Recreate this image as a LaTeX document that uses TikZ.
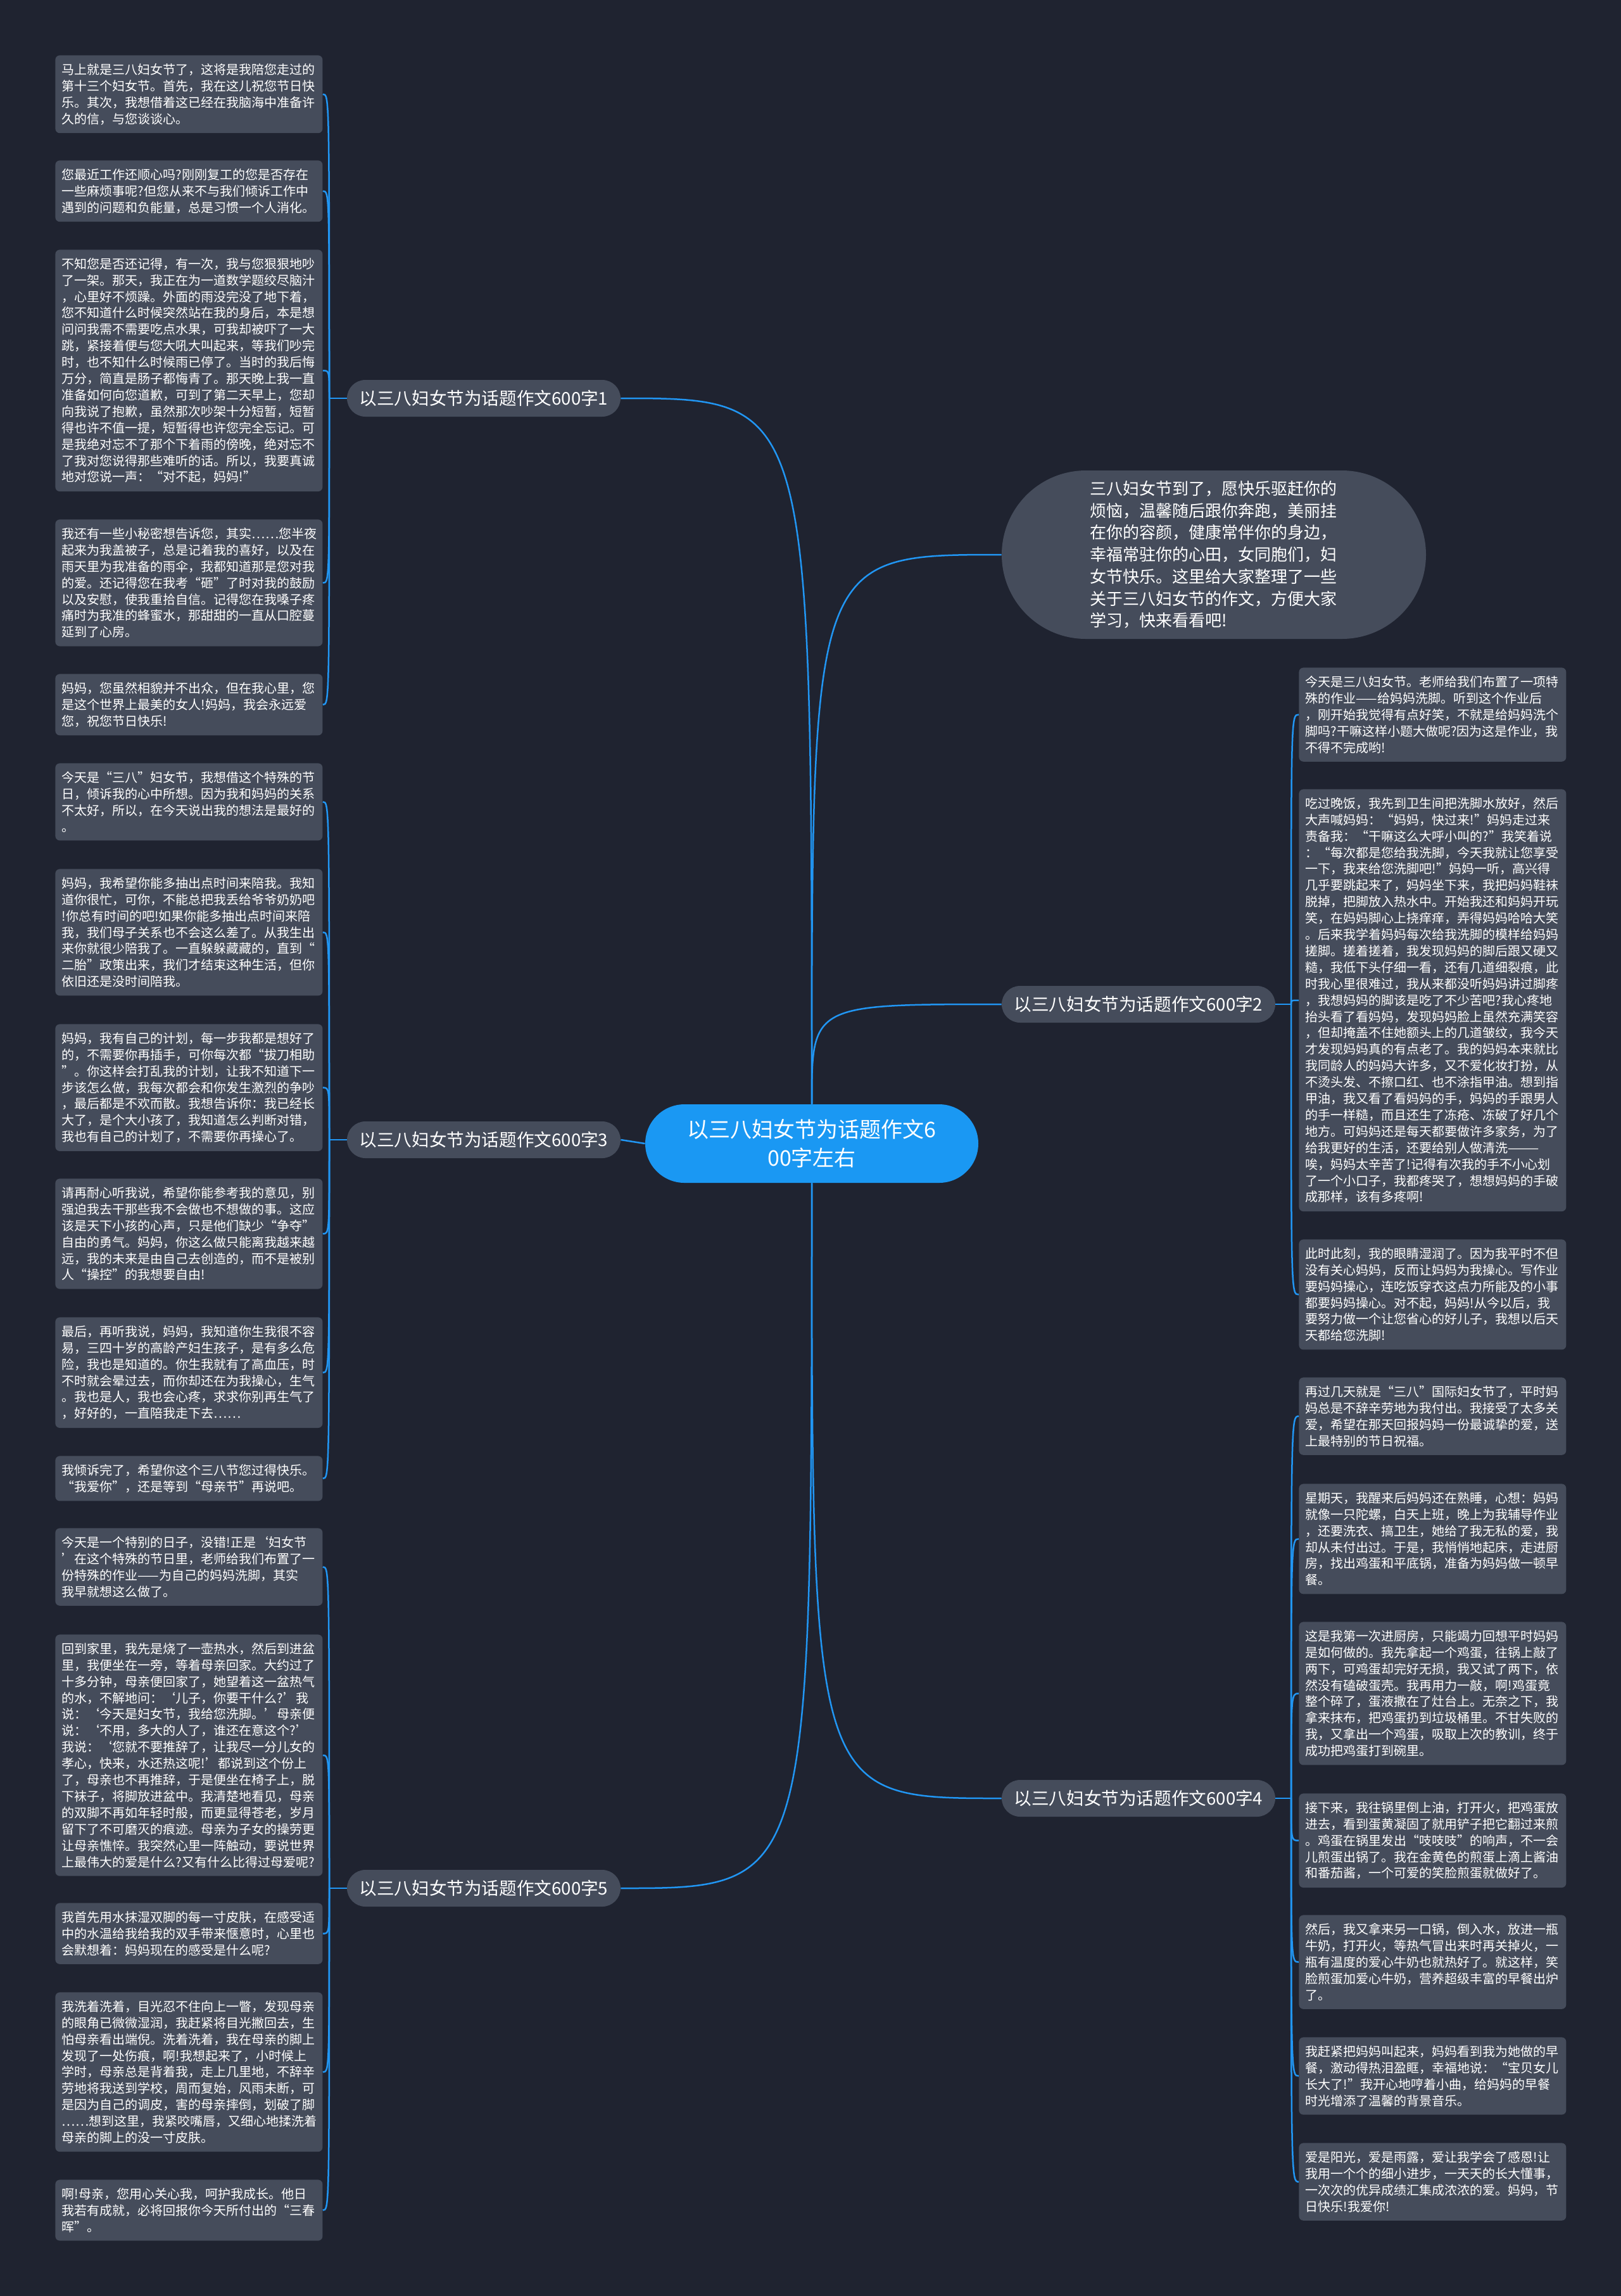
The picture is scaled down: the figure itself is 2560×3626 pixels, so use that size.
\documentclass[tikz,border=0pt]{standalone}
\usepackage{fontspec}
\usepackage{tikz}
\setmainfont{Noto Sans CJK SC}
\definecolor{mapbg}{HTML}{1F2330}
\definecolor{mapgrey}{HTML}{454C5B}
\definecolor{mapblue}{HTML}{2196F3}
\definecolor{mapcore}{HTML}{1A98F3}

\begin{document}
\begin{tikzpicture}[x=0.5pt,y=-0.5pt,
  leaf/.style={fill=mapgrey,rounded corners=3.5pt,text=white,anchor=north west,
    text width=200.5pt,inner xsep=5.25pt,inner ysep=6.5pt,align=left,
    font=\fontsize{10}{12.95}\selectfont},
  topic/.style={fill=mapgrey,rounded corners=14.5pt,text=white,
    minimum width=216pt,minimum height=29pt,inner sep=0pt,
    font=\fontsize{13.8}{16}\selectfont},
  core/.style={fill=mapcore,rounded corners=31pt,text=white,
    minimum width=263pt,minimum height=62pt,inner sep=0pt,align=center,
    font=\fontsize{17}{22.5}\selectfont},
  bubble/.style={fill=mapgrey,rounded corners=66.5pt,text=white,
    minimum width=335pt,minimum height=133pt,inner sep=0pt,
    text width=196pt,align=left,font=\fontsize{13}{17.35}\selectfont},
  link/.style={draw=mapblue,line width=1.25pt}]

  \fill[mapbg] (0,0) rectangle (2560,3626);

  % centre, intro and topics
  \node[core] (ctr) at (1282,1806) {以三八妇女节为话题作文6\\00字左右};
  \node[bubble] (intro) at (1917,876) {三八妇女节到了，愿快乐驱赶你的\\烦恼，温馨随后跟你奔跑，美丽挂\\在你的容颜，健康常伴你的身边，\\幸福常驻你的心田，女同胞们，妇\\女节快乐。这里给大家整理了一些\\关于三八妇女节的作文，方便大家\\学习，快来看看吧!};
  \node[topic] (b1) at (764,629) {以三八妇女节为话题作文600字1};
  \node[topic] (b3) at (764,1800) {以三八妇女节为话题作文600字3};
  \node[topic] (b5) at (764,2982) {以三八妇女节为话题作文600字5};
  \node[topic] (b2) at (1798,1586) {以三八妇女节为话题作文600字2};
  \node[topic] (b4) at (1798,2840) {以三八妇女节为话题作文600字4};

  % topic 1
  \node[leaf] (L1a) at (87,87) {马上就是三八妇女节了，这将是我陪您走过的\\第十三个妇女节。首先，我在这儿祝您节日快\\乐。其次，我想借着这已经在我脑海中准备许\\久的信，与您谈谈心。};
  \node[leaf] (L1b) at (87,253) {您最近工作还顺心吗?刚刚复工的您是否存在\\一些麻烦事呢?但您从来不与我们倾诉工作中\\遇到的问题和负能量，总是习惯一个人消化。};
  \node[leaf] (L1c) at (87,394) {不知您是否还记得，有一次，我与您狠狠地吵\\了一架。那天，我正在为一道数学题绞尽脑汁\\，心里好不烦躁。外面的雨没完没了地下着，\\您不知道什么时候突然站在我的身后，本是想\\问问我需不需要吃点水果，可我却被吓了一大\\跳，紧接着便与您大吼大叫起来，等我们吵完\\时，也不知什么时候雨已停了。当时的我后悔\\万分，简直是肠子都悔青了。那天晚上我一直\\准备如何向您道歉，可到了第二天早上，您却\\向我说了抱歉，虽然那次吵架十分短暂，短暂\\得也许不值一提，短暂得也许您完全忘记。可\\是我绝对忘不了那个下着雨的傍晚，绝对忘不\\了我对您说得那些难听的话。所以，我要真诚\\地对您说一声：“对不起，妈妈!”};
  \node[leaf] (L1d) at (87,820) {我还有一些小秘密想告诉您，其实……您半夜\\起来为我盖被子，总是记着我的喜好，以及在\\雨天里为我准备的雨伞，我都知道那是您对我\\的爱。还记得您在我考“砸”了时对我的鼓励\\以及安慰，使我重拾自信。记得您在我嗓子疼\\痛时为我准的蜂蜜水，那甜甜的一直从口腔蔓\\延到了心房。};
  \node[leaf] (L1e) at (87,1064) {妈妈，您虽然相貌并不出众，但在我心里，您\\是这个世界上最美的女人!妈妈，我会永远爱\\您，祝您节日快乐!};

  % topic 3
  \node[leaf] (L3a) at (87,1205) {今天是“三八”妇女节，我想借这个特殊的节\\日，倾诉我的心中所想。因为我和妈妈的关系\\不太好，所以，在今天说出我的想法是最好的\\。};
  \node[leaf] (L3b) at (87,1372) {妈妈，我希望你能多抽出点时间来陪我。我知\\道你很忙，可你，不能总把我丢给爷爷奶奶吧\\!你总有时间的吧!如果你能多抽出点时间来陪\\我，我们母子关系也不会这么差了。从我生出\\来你就很少陪我了。一直躲躲藏藏的，直到“\\二胎”政策出来，我们才结束这种生活，但你\\依旧还是没时间陪我。};
  \node[leaf] (L3c) at (87,1617) {妈妈，我有自己的计划，每一步我都是想好了\\的，不需要你再插手，可你每次都“拔刀相助\\”。你这样会打乱我的计划，让我不知道下一\\步该怎么做，我每次都会和你发生激烈的争吵\\，最后都是不欢而散。我想告诉你：我已经长\\大了，是个大小孩了，我知道怎么判断对错，\\我也有自己的计划了，不需要你再操心了。};
  \node[leaf] (L3d) at (87,1861) {请再耐心听我说，希望你能参考我的意见，别\\强迫我去干那些我不会做也不想做的事。这应\\该是天下小孩的心声，只是他们缺少“争夺”\\自由的勇气。妈妈，你这么做只能离我越来越\\远，我的未来是由自己去创造的，而不是被别\\人“操控”的我想要自由!};
  \node[leaf] (L3e) at (87,2080) {最后，再听我说，妈妈，我知道你生我很不容\\易，三四十岁的高龄产妇生孩子，是有多么危\\险，我也是知道的。你生我就有了高血压，时\\不时就会晕过去，而你却还在为我操心，生气\\。我也是人，我也会心疼，求求你别再生气了\\，好好的，一直陪我走下去……};
  \node[leaf] (L3f) at (87,2299) {我倾诉完了，希望你这个三八节您过得快乐。\\“我爱你”，还是等到“母亲节”再说吧。};

  % topic 5
  \node[leaf] (L5a) at (87,2413) {今天是一个特别的日子，没错!正是‘妇女节\\’在这个特殊的节日里，老师给我们布置了一\\份特殊的作业——为自己的妈妈洗脚，其实\\我早就想这么做了。};
  \node[leaf] (L5b) at (87,2581) {回到家里，我先是烧了一壶热水，然后到进盆\\里，我便坐在一旁，等着母亲回家。大约过了\\十多分钟，母亲便回家了，她望着这一盆热气\\的水，不解地问：‘儿子，你要干什么?’我\\说：‘今天是妇女节，我给您洗脚。’母亲便\\说：‘不用，多大的人了，谁还在意这个?’\\我说：‘您就不要推辞了，让我尽一分儿女的\\孝心，快来，水还热这呢!’都说到这个份上\\了，母亲也不再推辞，于是便坐在椅子上，脱\\下袜子，将脚放进盆中。我清楚地看见，母亲\\的双脚不再如年轻时般，而更显得苍老，岁月\\留下了不可磨灭的痕迹。母亲为子女的操劳更\\让母亲憔悴。我突然心里一阵触动，要说世界\\上最伟大的爱是什么?又有什么比得过母爱呢?};
  \node[leaf] (L5c) at (87,3005) {我首先用水抹湿双脚的每一寸皮肤，在感受适\\中的水温给我给我的双手带来惬意时，心里也\\会默想着：妈妈现在的感受是什么呢?};
  \node[leaf] (L5d) at (87,3146) {我洗着洗着，目光忍不住向上一瞥，发现母亲\\的眼角已微微湿润，我赶紧将目光撇回去，生\\怕母亲看出端倪。洗着洗着，我在母亲的脚上\\发现了一处伤痕，啊!我想起来了，小时候上\\学时，母亲总是背着我，走上几里地，不辞辛\\劳地将我送到学校，周而复始，风雨未断，可\\是因为自己的调皮，害的母亲摔倒，划破了脚\\……想到这里，我紧咬嘴唇，又细心地揉洗着\\母亲的脚上的没一寸皮肤。};
  \node[leaf] (L5e) at (87,3442) {啊!母亲，您用心关心我，呵护我成长。他日\\我若有成就，必将回报你今天所付出的“三春\\晖”。};

  % topic 2
  \node[leaf] (L2a) at (2051,1054) {今天是三八妇女节。老师给我们布置了一项特\\殊的作业——给妈妈洗脚。听到这个作业后\\，刚开始我觉得有点好笑，不就是给妈妈洗个\\脚吗?干嘛这样小题大做呢?因为这是作业，我\\不得不完成哟!};
  \node[leaf] (L2b) at (2051,1246) {吃过晚饭，我先到卫生间把洗脚水放好，然后\\大声喊妈妈：“妈妈，快过来!”妈妈走过来\\责备我：“干嘛这么大呼小叫的?”我笑着说\\：“每次都是您给我洗脚，今天我就让您享受\\一下，我来给您洗脚吧!”妈妈一听，高兴得\\几乎要跳起来了，妈妈坐下来，我把妈妈鞋袜\\脱掉，把脚放入热水中。开始我还和妈妈开玩\\笑，在妈妈脚心上挠痒痒，弄得妈妈哈哈大笑\\。后来我学着妈妈每次给我洗脚的模样给妈妈\\搓脚。搓着搓着，我发现妈妈的脚后跟又硬又\\糙，我低下头仔细一看，还有几道细裂痕，此\\时我心里很难过，我从来都没听妈妈讲过脚疼\\，我想妈妈的脚该是吃了不少苦吧?我心疼地\\抬头看了看妈妈，发现妈妈脸上虽然充满笑容\\，但却掩盖不住她额头上的几道皱纹，我今天\\才发现妈妈真的有点老了。我的妈妈本来就比\\我同龄人的妈妈大许多，又不爱化妆打扮，从\\不烫头发、不擦口红、也不涂指甲油。想到指\\甲油，我又看了看妈妈的手，妈妈的手跟男人\\的手一样糙，而且还生了冻疮、冻破了好几个\\地方。可妈妈还是每天都要做许多家务，为了\\给我更好的生活，还要给别人做清洗———\\唉，妈妈太辛苦了!记得有次我的手不小心划\\了一个小口子，我都疼哭了，想想妈妈的手破\\成那样，该有多疼啊!};
  \node[leaf] (L2c) at (2051,1957) {此时此刻，我的眼睛湿润了。因为我平时不但\\没有关心妈妈，反而让妈妈为我操心。写作业\\要妈妈操心，连吃饭穿衣这点力所能及的小事\\都要妈妈操心。对不起，妈妈!从今以后，我\\要努力做一个让您省心的好儿子，我想以后天\\天都给您洗脚!};

  % topic 4
  \node[leaf] (L4a) at (2051,2175) {再过几天就是“三八”国际妇女节了，平时妈\\妈总是不辞辛劳地为我付出。我接受了太多关\\爱，希望在那天回报妈妈一份最诚挚的爱，送\\上最特别的节日祝福。};
  \node[leaf] (L4b) at (2051,2343) {星期天，我醒来后妈妈还在熟睡，心想：妈妈\\就像一只陀螺，白天上班，晚上为我辅导作业\\，还要洗衣、搞卫生，她给了我无私的爱，我\\却从未付出过。于是，我悄悄地起床，走进厨\\房，找出鸡蛋和平底锅，准备为妈妈做一顿早\\餐。};
  \node[leaf] (L4c) at (2051,2561) {这是我第一次进厨房，只能竭力回想平时妈妈\\是如何做的。我先拿起一个鸡蛋，往锅上敲了\\两下，可鸡蛋却完好无损，我又试了两下，依\\然没有磕破蛋壳。我再用力一敲，啊!鸡蛋竟\\整个碎了，蛋液撒在了灶台上。无奈之下，我\\拿来抹布，把鸡蛋扔到垃圾桶里。不甘失败的\\我，又拿出一个鸡蛋，吸取上次的教训，终于\\成功把鸡蛋打到碗里。};
  \node[leaf] (L4d) at (2051,2832) {接下来，我往锅里倒上油，打开火，把鸡蛋放\\进去，看到蛋黄凝固了就用铲子把它翻过来煎\\。鸡蛋在锅里发出“吱吱吱”的响声，不一会\\儿煎蛋出锅了。我在金黄色的煎蛋上滴上酱油\\和番茄酱，一个可爱的笑脸煎蛋就做好了。};
  \node[leaf] (L4e) at (2051,3024) {然后，我又拿来另一口锅，倒入水，放进一瓶\\牛奶，打开火，等热气冒出来时再关掉火，一\\瓶有温度的爱心牛奶也就热好了。就这样，笑\\脸煎蛋加爱心牛奶，营养超级丰富的早餐出炉\\了。};
  \node[leaf] (L4f) at (2051,3217) {我赶紧把妈妈叫起来，妈妈看到我为她做的早\\餐，激动得热泪盈眶，幸福地说：“宝贝女儿\\长大了!”我开心地哼着小曲，给妈妈的早餐\\时光增添了温馨的背景音乐。};
  \node[leaf] (L4g) at (2051,3384) {爱是阳光，爱是雨露，爱让我学会了感恩!让\\我用一个个的细小进步，一天天的长大懂事，\\一次次的优异成绩汇集成浓浓的爱。妈妈，节\\日快乐!我爱你!};

  % links from the centre
  \draw[link] (ctr.north) .. controls (ctr.north |- b1.east) .. (b1.east);
  \draw[link] (ctr.north) .. controls (ctr.north |- intro.west) .. (intro.west);
  \draw[link] (ctr.north) .. controls (ctr.north |- b2.west) .. (b2.west);
  \draw[link] (b3.east) -- (ctr.west);
  \draw[link] (ctr.south) .. controls (ctr.south |- b4.west) .. (b4.west);
  \draw[link] (ctr.south) .. controls (ctr.south |- b5.east) .. (b5.east);

  % links to the leaves
  \coordinate (j1) at (520,629);
  \coordinate (j3) at (520,1800);
  \coordinate (j5) at (520,2982);
  \coordinate (j2) at (2039,1586);
  \coordinate (j4) at (2039,2840);
  \draw[link] (b1.west) -- (j1);
  \draw[link] (b3.west) -- (j3);
  \draw[link] (b5.west) -- (j5);
  \draw[link] (b2.east) -- (j2);
  \draw[link] (b4.east) -- (j4);
  \foreach \l in {L1a,L1b,L1c,L1d,L1e}
    \draw[link] (j1) .. controls (j1 |- \l.east) .. (\l.east);
  \foreach \l in {L3a,L3b,L3c,L3d,L3e,L3f}
    \draw[link] (j3) .. controls (j3 |- \l.east) .. (\l.east);
  \foreach \l in {L5a,L5b,L5c,L5d,L5e}
    \draw[link] (j5) .. controls (j5 |- \l.east) .. (\l.east);
  \foreach \l in {L2a,L2b,L2c}
    \draw[link] (j2) .. controls (j2 |- \l.west) .. (\l.west);
  \foreach \l in {L4a,L4b,L4c,L4d,L4e,L4f,L4g}
    \draw[link] (j4) .. controls (j4 |- \l.west) .. (\l.west);
\end{tikzpicture}
\end{document}
